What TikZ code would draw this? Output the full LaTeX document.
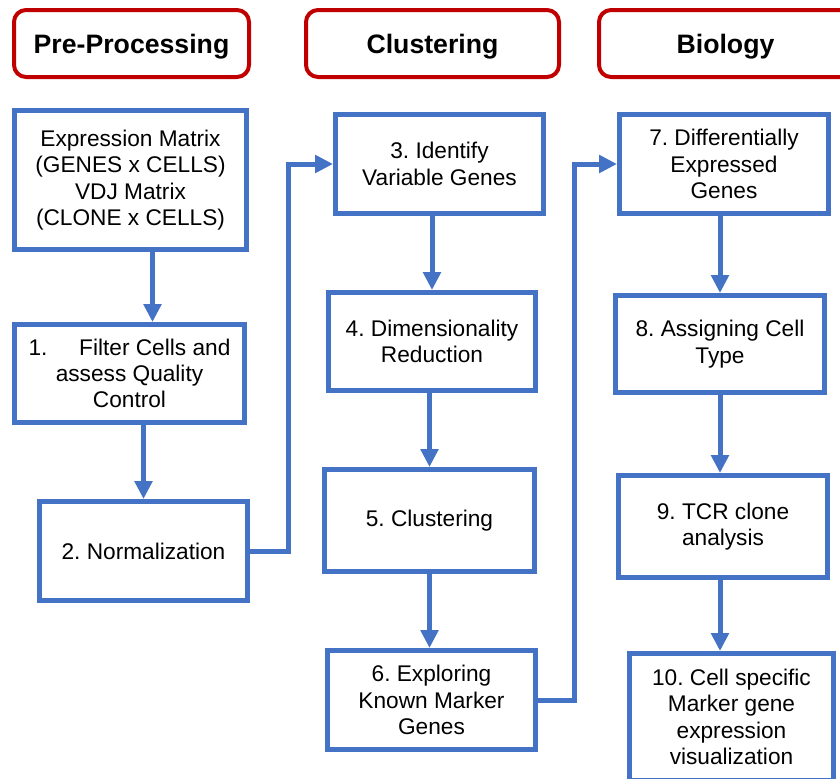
\documentclass[tikz,border=0pt]{standalone}
\usepackage{fontspec}
\setmainfont{Liberation Sans}
\frenchspacing
\usetikzlibrary{arrows.meta,calc,positioning}
\definecolor{stepblue}{HTML}{4472C4}
\definecolor{headred}{HTML}{C00000}
\tikzset{>=Triangle,
  every node/.style={font=\fontsize{17}{19.7}\selectfont},
  stepbox/.style={draw=stepblue,line width=3.75pt,fill=white,inner sep=0pt,
    align=center},
  headbox/.style={draw=headred,line width=3pt,rounded corners=9pt,inner sep=0pt,
    minimum width=189.75pt,minimum height=50.25pt,text depth=0pt,
    font=\fontsize{20}{24}\selectfont\bfseries},
  flow/.style={-{Triangle[length=13.5pt,width=13pt]},draw=stepblue,line width=3.75pt}}

\begin{document}
\begin{tikzpicture}[x=0.75pt,y=-0.75pt]
\useasboundingbox (0,0) rectangle (840,779);
% column headings
\node[headbox,minimum width=176.25pt] (pre) at (131.5,43.5) {Pre-Processing};
\node[headbox] (clu) at (432.5,43.5) {Clustering};
\node[headbox] (bio) at (725.5,43.5) {Biology};
% pre-processing
\node[stepbox,minimum width=174pt,minimum height=104.25pt] (expr) at (130.5,180)
  {Expression Matrix\\(GENES x CELLS)\\VDJ Matrix\\(CLONE x CELLS)};
\node[stepbox,minimum width=172.5pt,minimum height=73.5pt] (filt) at (129.5,373.5)
  {1.\hspace{1.4em}Filter Cells and\\assess Quality\\Control};
\node[stepbox,minimum width=156pt,minimum height=74.25pt] (norm) at (143.5,551)
  {2. Normalization};
% clustering
\node[stepbox,minimum width=156pt,minimum height=74.25pt] (vgen) at (439.5,164)
  {3. Identify\\Variable Genes};
\node[stepbox,minimum width=155.25pt,minimum height=73.5pt] (dimr) at (432,341.5)
  {4. Dimensionality\\Reduction};
\node[stepbox,minimum width=157.5pt,minimum height=76.5pt] (clus) at (429.5,520.5)
  {5. Clustering};
\node[stepbox,minimum width=156pt,minimum height=74.25pt] (mark) at (431.5,700)
  {6. Exploring\\Known Marker\\Genes};
% biology
\node[stepbox,minimum width=156.75pt,minimum height=74.25pt] (dexp) at (724,164)
  {7. Differentially\\Expressed\\Genes};
\node[stepbox,minimum width=156.75pt,minimum height=72.75pt] (ctyp) at (720,344)
  {8. Assigning Cell\\Type};
\node[stepbox,minimum width=156.75pt,minimum height=76.5pt] (tcr) at (723,526.5)
  {9. TCR clone\\analysis};
\node[stepbox,minimum width=153pt,minimum height=95.25pt] (viz) at (731.5,717)
  {10. Cell specific\\Marker gene\\expression\\visualization};
% connectors
\draw[flow] ([xshift=16.5pt]expr.south) -- ([xshift=16.5pt]expr.south |- filt.north);
\draw[flow] (filt.south -| norm) -- (norm.north);
\draw[flow] (norm.east) -- ++(38,0) |- (vgen.west);
\draw[flow] (vgen.south -| dimr) -- (dimr.north);
\draw[flow] (dimr.south -| clus) -- (clus.north);
\draw[flow] (clus.south) -- (clus.south |- mark.north);
\draw[flow] (mark.east) -- ++(36,0) |- (dexp.west);
\draw[flow] (dexp.south -| ctyp) -- (ctyp.north);
\draw[flow] (ctyp.south) -- (ctyp.south |- tcr.north);
\draw[flow] (ctyp.south |- tcr.south) -- (ctyp.south |- viz.north);
\end{tikzpicture}
\end{document}
